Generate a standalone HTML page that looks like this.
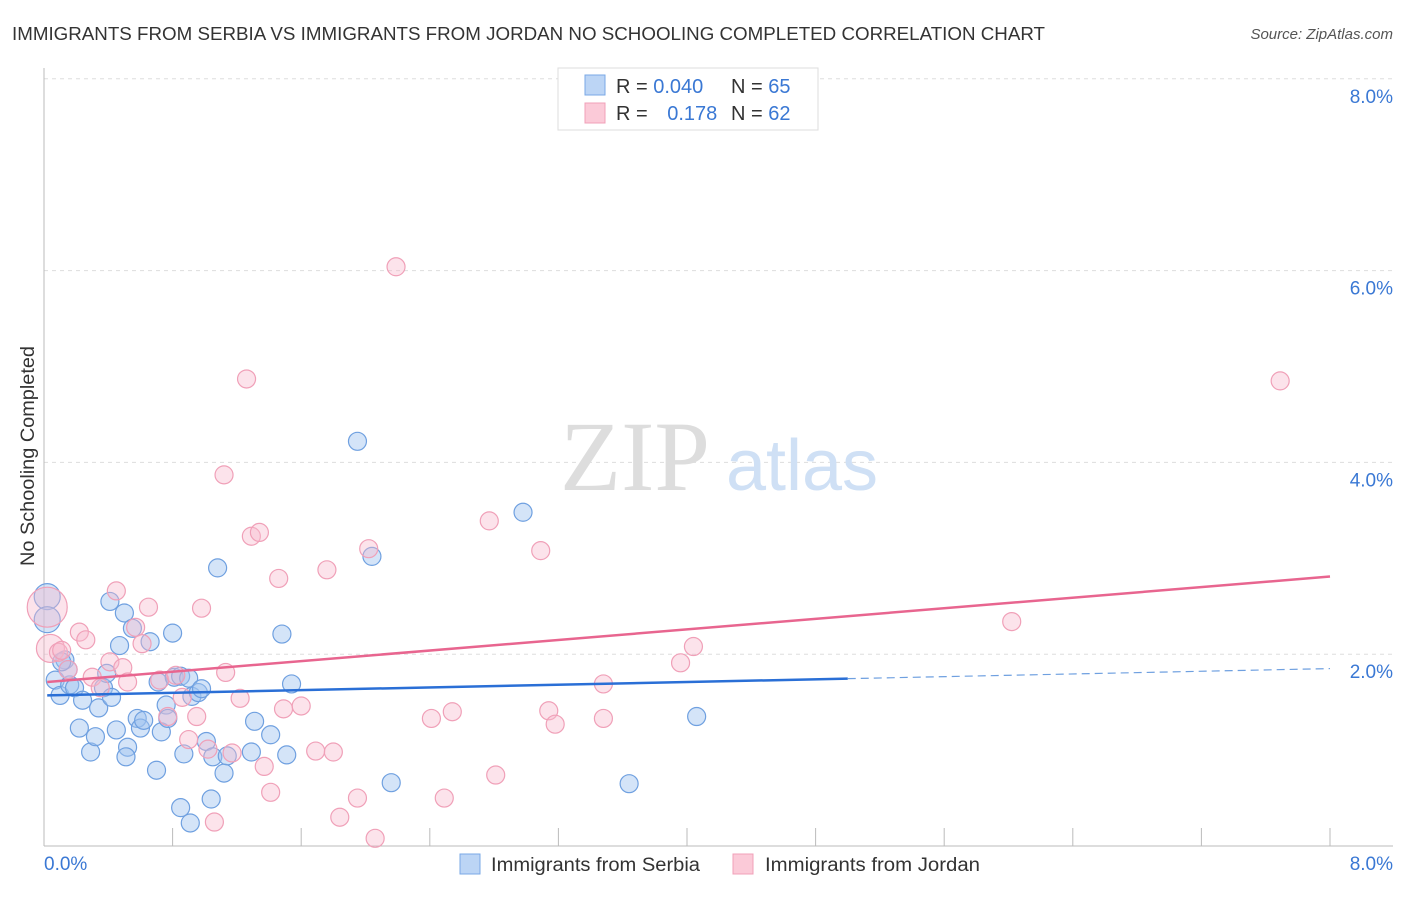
<!DOCTYPE html>
<html><head><meta charset="utf-8"><style>
body{margin:0;background:#fff;font-family:"Liberation Sans",sans-serif}
svg text{font-family:"Liberation Sans",sans-serif}
</style></head><body>
<svg width="1406" height="892">
<text x="12" y="40" font-size="18.5" fill="#333" textLength="1033" lengthAdjust="spacingAndGlyphs">IMMIGRANTS FROM SERBIA VS IMMIGRANTS FROM JORDAN NO SCHOOLING COMPLETED CORRELATION CHART</text>
<text x="1393" y="39" font-size="15" fill="#555" font-style="italic" text-anchor="end">Source: ZipAtlas.com</text>
<g id="grid"></g>
<text x="635" y="490" font-size="100" fill="#ddd" text-anchor="middle" font-family="Liberation Serif" style="font-family:'Liberation Serif',serif">ZIP</text>
<text x="802" y="490" font-size="72" fill="#cfe0f5" text-anchor="middle">atlas</text>
<text transform="translate(34,456) rotate(-90)" font-size="19" fill="#333" text-anchor="middle" textLength="220" lengthAdjust="spacingAndGlyphs">No Schooling Completed</text>
<g id="pts"></g>
<g id="lines"></g>
<g>
<rect x="558" y="68" width="260" height="62" fill="#fff" stroke="#ddd"/>
<rect x="585" y="75" width="20" height="20" fill="#bcd5f5" stroke="#7aa8e6"/>
<rect x="585" y="103" width="20" height="20" fill="#fbcad8" stroke="#f0a0b8"/>
<text x="616" y="93" font-size="20" fill="#333">R = <tspan fill="#3a78d4">0.040</tspan></text>
<text x="731" y="93" font-size="20" fill="#333">N = <tspan fill="#3a78d4">65</tspan></text>
<text x="616" y="120" font-size="20" fill="#333">R = <tspan fill="#3a78d4" dx="14">0.178</tspan></text>
<text x="731" y="120" font-size="20" fill="#333">N = <tspan fill="#3a78d4">62</tspan></text>
</g>
<g><rect x="460" y="854" width="20" height="20" fill="#bcd5f5" stroke="#7aa8e6"/><text x="491" y="871" font-size="19" fill="#333" textLength="209" lengthAdjust="spacingAndGlyphs">Immigrants from Serbia</text></g>
<g><rect x="733" y="854" width="20" height="20" fill="#fbcad8" stroke="#f0a0b8"/><text x="765" y="871" font-size="19" fill="#333" textLength="215" lengthAdjust="spacingAndGlyphs">Immigrants from Jordan</text></g>
</svg>
<script>
const yTicks=[2,4,6,8];
const yTickLabels=["2.0%","4.0%","6.0%","8.0%"];
const serbiaX=[0.02,0.02,0.07,0.10,0.13,0.16,0.19,0.15,0.22,0.24,0.29,0.32,0.34,0.37,0.39,0.41,0.42,0.45,0.47,0.50,0.52,0.51,0.55,0.58,0.60,0.62,0.66,0.70,0.71,0.73,0.76,0.77,0.80,0.81,0.85,0.87,0.90,0.92,0.91,0.96,0.98,1.01,1.04,1.05,1.08,1.12,1.14,1.31,1.29,1.41,1.48,1.51,1.54,1.95,2.04,2.16,2.98,3.64,4.06,0.85,0.11];
const serbiaY=[2.60,2.36,1.73,1.57,1.94,1.68,1.65,1.84,1.23,1.52,0.98,1.14,1.44,1.65,1.80,2.55,1.55,1.21,2.09,2.43,1.03,0.93,2.27,1.33,1.23,1.31,2.13,0.79,1.71,1.19,1.47,1.33,2.22,1.76,1.77,0.96,1.75,1.56,0.24,1.60,1.64,1.09,0.49,0.93,2.90,0.76,0.94,1.30,0.98,1.16,2.21,0.95,1.69,4.22,3.02,0.66,3.48,0.65,1.35,0.40,1.92];
const serbiaR=[13,13];
const jordanX=[0.02,0.04,0.09,0.11,0.15,0.22,0.26,0.30,0.35,0.41,0.45,0.49,0.52,0.57,0.61,0.65,0.72,0.77,0.82,0.86,0.90,0.95,0.98,1.02,1.06,1.12,1.13,1.17,1.22,1.26,1.29,1.34,1.37,1.41,1.46,1.49,1.60,1.69,1.76,1.80,1.84,1.95,2.02,2.06,2.19,2.41,2.49,2.54,2.77,2.81,3.09,3.14,3.18,3.48,3.48,3.96,4.04,6.02,7.69];
const jordanY=[2.49,2.06,2.02,2.04,1.84,2.23,2.15,1.76,1.65,1.92,2.66,1.86,1.71,2.28,2.11,2.49,1.73,1.35,1.78,1.55,1.11,1.35,2.48,1.01,0.25,3.87,1.81,0.97,1.54,4.87,3.23,3.27,0.83,0.56,2.79,1.43,1.46,0.99,2.88,0.98,0.30,0.50,3.10,0.08,6.04,1.33,0.50,1.40,3.39,0.74,3.08,1.41,1.27,1.69,1.33,1.91,2.08,2.34,4.85];
const jordanR=[20,14];
const serbiaFit=[1.57,1.85];
const jordanFit=[1.71,2.81];
const NS='http://www.w3.org/2000/svg';
const X=v=>44+v*160.75, Y=v=>846-v*95.9;
function mk(t,a,p){const e=document.createElementNS(NS,t);for(const k in a)e.setAttribute(k,a[k]);p.appendChild(e);return e;}
const g=document.getElementById('grid');
yTicks.forEach((t,i)=>{
 const l=mk('line',{x1:44,x2:1393,y1:Y(t),y2:Y(t),stroke:'#ddd','stroke-dasharray':'4,4'},g);
 
 
 const tx=mk('text',{x:1393,y:Y(t)+24,'font-size':19,fill:'#3a78d4','text-anchor':'end'},g);tx.textContent=yTickLabels[i];
 
 
});
mk('line',{x1:44,x2:44,y1:68,y2:846,stroke:'#bbb'},g);
mk('line',{x1:44,x2:1393,y1:846,y2:846,stroke:'#bbb'},g);
for(let i=1;i<=10;i++){mk('line',{x1:44+i*128.6,x2:44+i*128.6,y1:828,y2:846,stroke:'#bbb'},g);}
let t0=mk('text',{x:44,y:870,'font-size':19,fill:'#3a78d4'},g);t0.textContent='0.0%';


let t1=mk('text',{x:1393,y:870,'font-size':19,fill:'#3a78d4','text-anchor':'end'},g);t1.textContent='8.0%';


const p=document.getElementById('pts');
function draw(xs,ys,rs,fill,stroke,name){xs.forEach((x,i)=>{const c=mk('circle',{cx:X(x),cy:Y(ys[i]),r:rs[i]||9,fill:fill,stroke:stroke,'stroke-width':1.2},p);
 
 });}
draw(serbiaX,serbiaY,serbiaR,'rgba(160,195,240,0.45)','#6fa0e0','serbia-point');
draw(jordanX,jordanY,jordanR,'rgba(248,185,205,0.4)','#f0a0b8','jordan-point');
const L=document.getElementById('lines');
const s5=serbiaFit[0]+(serbiaFit[1]-serbiaFit[0])*5/8;
let a=mk('line',{x1:X(0.02),y1:Y(serbiaFit[0]),x2:X(5),y2:Y(s5),stroke:'#2a6fd6','stroke-width':2.5},L);


let b=mk('line',{x1:X(5),y1:Y(s5),x2:X(8),y2:Y(serbiaFit[1]),stroke:'#6fa0e0','stroke-width':1.2,'stroke-dasharray':'8,5'},L);


let c=mk('line',{x1:X(0.02),y1:Y(jordanFit[0]),x2:X(8),y2:Y(jordanFit[1]),stroke:'#e8658f','stroke-width':2.5},L);


</script>
</body></html>
